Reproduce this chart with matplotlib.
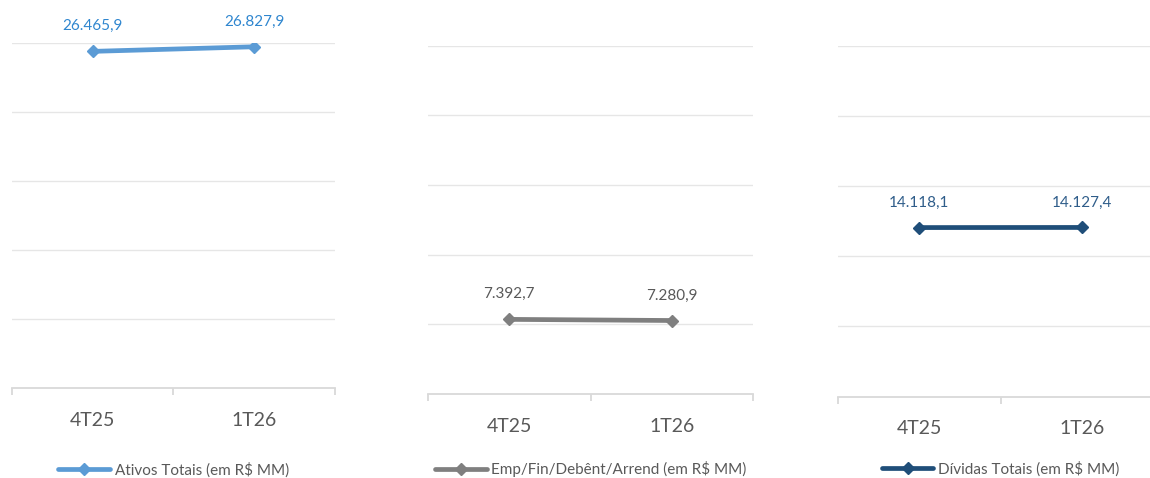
import numpy as np
import matplotlib
matplotlib.use("Agg")
import matplotlib.pyplot as plt

plt.rcParams['font.family'] = ['Lato', 'DejaVu Sans']

quarters = ["4T25", "1T26"]

ativos = [26465.9, 26827.9]
emprestimos = [7392.7, 7280.9]
dividas = [14118.1, 14127.4]

ativos_labels = ["26.465,9", "26.827,9"]
emprestimos_labels = ["7.392,7", "7.280,9"]
dividas_labels = ["14.118,1", "14.127,4"]

series_names = ["Ativos Totais (em R$ MM)",
                "Emp/Fin/Debênt/Arrend (em R$ MM)",
                "Dívidas Totais (em R$ MM)"]

# hidden value axis tops
y_tops = [27100, 34500, 29300]

line_colors = ["#5B9BD5", "#7F7F7F", "#1F4E79"]
label_colors = ["#2F86CF", "#595959", "#2F5D8A"]

# axes rectangles in figure fractions: left, bottom, width, height
boxes = [[0.0104, 0.1883, 0.2809, 0.7211],
         [0.3722, 0.1757, 0.2826, 0.7287],
         [0.7287, 0.1701, 0.2826, 0.7343]]
legend_y = [-0.238, -0.215, -0.205]

fig = plt.figure(figsize=(11.5, 4.78), dpi=100)

all_values = [ativos, emprestimos, dividas]
all_labels = [ativos_labels, emprestimos_labels, dividas_labels]

for i in range(3):
    ax = fig.add_axes(boxes[i])
    x = np.arange(len(quarters))
    ax.plot(x, all_values[i], color=line_colors[i], lw=3.4, marker="D",
            ms=6.5, label=series_names[i], solid_capstyle="round")
    for xi, v, lab in zip(x, all_values[i], all_labels[i]):
        ax.annotate(lab, (xi, v), xytext=(0, 18), textcoords="offset points",
                    ha="center", va="center", fontsize=11, color=label_colors[i])

    ax.set_xlim(-0.5, 1.5)
    ax.set_ylim(0, y_tops[i])
    ax.set_yticks(np.linspace(0, y_tops[i], 6))
    ax.set_yticklabels([])
    ax.tick_params(axis="y", length=0)
    ax.grid(axis="y", color="#E6E6E6", lw=1)
    ax.set_axisbelow(True)

    for side in ["top", "right", "left"]:
        ax.spines[side].set_visible(False)
    ax.spines["bottom"].set_color("#D9D9D9")
    ax.spines["bottom"].set_linewidth(1.3)

    ax.set_xticks(x)
    ax.set_xticklabels(quarters)
    ax.set_xticks([-0.5, 0.5, 1.5], minor=True)
    ax.tick_params(axis="x", which="major", length=0, pad=17,
                   labelsize=14, labelcolor="#595959")
    ax.tick_params(axis="x", which="minor", length=5, width=1.3, color="#D9D9D9")

    ax.legend(loc="center", bbox_to_anchor=(0.5, legend_y[i]), frameon=False,
              fontsize=11, labelcolor="#595959", handlelength=3.4,
              handletextpad=0.3, borderpad=0)

fig.savefig("out.png", dpi=100)
